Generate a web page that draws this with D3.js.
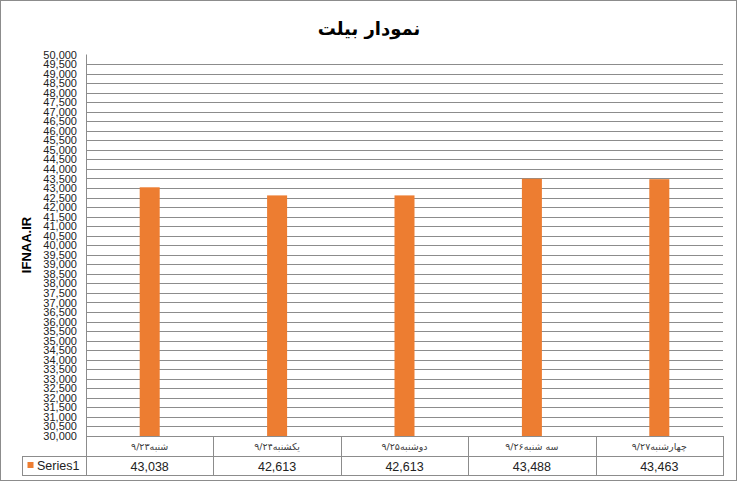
<!DOCTYPE html>
<html>
<head>
<meta charset="utf-8">
<script src="https://cdn.jsdelivr.net/npm/d3@7/dist/d3.min.js"></script>
<style>
  html, body { margin: 0; padding: 0; background: #fff; }
  svg { display: block; }
</style>
</head>
<body>
<svg id="chart" width="738" height="482"></svg>
<script>
const title = "نمودار بیلت";
const yTitle = "IFNAA.IR";
const seriesName = "Series1";
const categories = ["شنبه۹/۲۳", "یکشنبه۹/۲۴", "دوشنبه۹/۲۵", "سه شنبه۹/۲۶", "چهارشنبه۹/۲۷"];
const values = [43038, 42613, 42613, 43488, 43463];
const yMin = 30000, yMax = 50000, yStep = 500;

(function () {
const svg = d3.select("#chart");
const pL = 86, pR = 723, pT = 54.5, pB = 436;
const rowH1 = 20, rowH2 = 20;

// outer border
svg.append("rect").attr("x", 0.5).attr("y", 0.5).attr("width", 736).attr("height", 480)
  .attr("fill", "#fff").attr("stroke", "#8c8c8c").attr("stroke-width", 1);

const x = d3.scaleBand().domain(categories).range([pL, pR]).paddingInner(0).paddingOuter(0);
const y = d3.scaleLinear().domain([yMin, yMax]).range([pB, pT]);
const ticks = d3.range(yMin, yMax + 1, yStep);

// gridlines (top one not drawn in the reference)
svg.append("g").selectAll("line").data(ticks.filter(t => t < yMax)).join("line")
  .attr("x1", pL).attr("x2", pR)
  .attr("y1", d => Math.round(y(d)) + 0.5).attr("y2", d => Math.round(y(d)) + 0.5)
  .attr("stroke", "#8c8c8c").attr("stroke-width", 1);

// y axis with labels
const yAxis = d3.axisLeft(y).tickValues(ticks).tickSize(0).tickPadding(9)
  .tickFormat(d3.format(","));
const ga = svg.append("g").attr("transform", `translate(${pL},0)`).call(yAxis);
ga.select(".domain").remove();
ga.selectAll("text").attr("font-family", "Liberation Sans, Arial, sans-serif")
  .attr("font-size", "11px").attr("fill", "#222");

// axis line
svg.append("line").attr("x1", pL + 0.5).attr("x2", pL + 0.5)
  .attr("y1", pT).attr("y2", pB + rowH1 + rowH2)
  .attr("stroke", "#8c8c8c");

// bars
const barW = 20;
svg.append("g").selectAll("rect").data(values).join("rect")
  .attr("x", (d, i) => x(categories[i]) + x.bandwidth() / 2 - barW / 2)
  .attr("width", barW)
  .attr("y", d => y(d))
  .attr("height", d => y(yMin) - y(d))
  .attr("fill", "#ED7D31");

// data table
const tb = svg.append("g").attr("stroke", "#8c8c8c").attr("fill", "none");
tb.append("line").attr("x1", pL).attr("x2", pR + 0.5).attr("y1", pB + 0.5).attr("y2", pB + 0.5);
tb.append("line").attr("x1", 22).attr("x2", pR + 0.5).attr("y1", pB + rowH1 + 0.5).attr("y2", pB + rowH1 + 0.5);
tb.append("line").attr("x1", 22).attr("x2", pR + 0.5).attr("y1", pB + rowH1 + rowH2 - 0.5).attr("y2", pB + rowH1 + rowH2 - 0.5);
tb.append("line").attr("x1", 22.5).attr("x2", 22.5).attr("y1", pB + rowH1).attr("y2", pB + rowH1 + rowH2);
tb.selectAll("line.div").data(categories).join("line").attr("class", "div")
  .attr("x1", d => Math.round(x(d) + x.bandwidth()) + 0.5)
  .attr("x2", d => Math.round(x(d) + x.bandwidth()) + 0.5)
  .attr("y1", pB).attr("y2", pB + rowH1 + rowH2);

svg.append("g").selectAll("text").data(categories).join("text")
  .attr("x", d => x(d) + x.bandwidth() / 2)
  .attr("y", pB + 14)
  .attr("text-anchor", "middle")
  .attr("font-family", "DejaVu Sans, Liberation Sans, sans-serif")
  .attr("font-size", "9.5px").attr("fill", "#404040")
  .text(d => d);

svg.append("g").selectAll("text").data(values).join("text")
  .attr("x", (d, i) => x(categories[i]) + x.bandwidth() / 2)
  .attr("y", pB + rowH1 + 15)
  .attr("text-anchor", "middle")
  .attr("font-family", "Liberation Sans, Arial, sans-serif")
  .attr("font-size", "12.5px").attr("fill", "#222")
  .text(d => d3.format(",")(d));

// legend key in table
svg.append("rect").attr("x", 27.5).attr("y", pB + rowH1 + 6).attr("width", 6).attr("height", 6).attr("fill", "#ED7D31");
svg.append("text").attr("x", 37).attr("y", pB + rowH1 + 14)
  .attr("font-family", "Liberation Sans, Arial, sans-serif")
  .attr("font-size", "12.5px").attr("fill", "#222").text(seriesName);

// title
svg.append("text").attr("x", 369).attr("y", 35).attr("text-anchor", "middle")
  .attr("font-family", "DejaVu Sans, Liberation Sans, sans-serif")
  .attr("font-weight", "bold").attr("font-size", "18px").attr("fill", "#000")
  .text(title);

// y title
svg.append("text").attr("transform", "translate(31,245) rotate(-90)")
  .attr("text-anchor", "middle")
  .attr("font-family", "Liberation Sans, Arial, sans-serif")
  .attr("font-weight", "bold").attr("font-size", "13px").attr("fill", "#000")
  .text(yTitle);
})();
</script>
</body>
</html>
